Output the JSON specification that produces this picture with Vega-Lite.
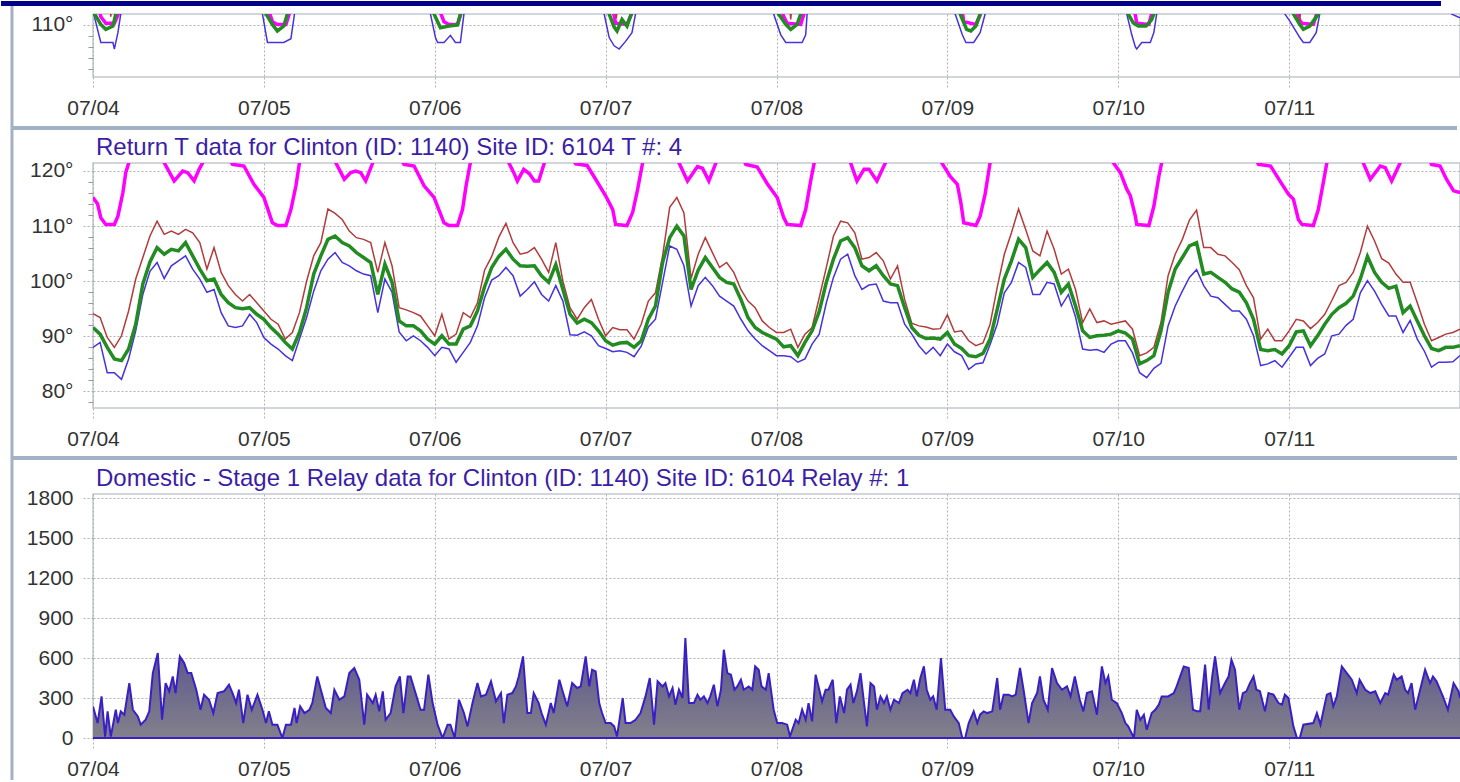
{
"$schema":"https://vega.github.io/schema/vega-lite/v6.json",
"background":"white",
"padding":0,
"autosize":{"type":"pad"},
"bounds":"flush",
"spacing":86,
"config":{
 "view":{"stroke":"#c3c7d0","strokeWidth":1.5,"fill":"white"},
 "axis":{"labelFont":"Liberation Sans","labelFontSize":21,"labelColor":"#333333","domain":false,"grid":true,"gridColor":"#b3b3b3","gridDash":[2,2],"tickColor":"#b3b3b3","tickDash":[2,2],"tickSize":12,"labelPadding":8,"labelFlush":false,"labelOverlap":false},
 "title":{"font":"Liberation Sans","fontSize":24,"fontWeight":"normal","color":"#3b1ea5","anchor":"start","frame":"group","dx":3}
},
"datasets":{
"one":[{"k":1}],
"rt":[
{"h":0,"mx":94.1,"av":91.6,"mn":88},{"h":1,"mx":93.4,"av":90.4,"mn":88.9},{"h":2,"mx":89.8,"av":88,"mn":83.4},{"h":3,"mx":88,"av":85.9,"mn":83.4},{"h":4,"mx":90.1,"av":85.6,"mn":82.2},{"h":5,"mx":94.6,"av":87.7,"mn":85.9},{"h":6,"mx":100.4,"av":92.2,"mn":91},{"h":7,"mx":104.3,"av":99.5,"mn":97.6},{"h":8,"mx":108.2,"av":103.5,"mn":101.8},{"h":9,"mx":110.9,"av":106.1,"mn":103.4},
{"h":10,"mx":108.5,"av":104.9,"mn":100.5},{"h":11,"mx":109.1,"av":105.8,"mn":102.8},{"h":12,"mx":108.5,"av":105.5,"mn":103.7},{"h":13,"mx":109.4,"av":107,"mn":104.6},{"h":14,"mx":108.8,"av":104.6,"mn":102.2},{"h":15,"mx":107,"av":102.2,"mn":100.4},{"h":16,"mx":102.2,"av":100.1,"mn":98},{"h":17,"mx":106.1,"av":100.4,"mn":98.5},{"h":18,"mx":101.6,"av":97.6,"mn":94.3},{"h":19,"mx":99.2,"av":96.1,"mn":91.9},
{"h":20,"mx":97.6,"av":95.2,"mn":91.6},{"h":21,"mx":96.4,"av":95,"mn":91.9},{"h":22,"mx":97.6,"av":95.2,"mn":94},{"h":23,"mx":96.1,"av":94,"mn":92.5},{"h":24,"mx":94.6,"av":93.1,"mn":89.8},{"h":25,"mx":93.1,"av":91.6,"mn":88.6},{"h":26,"mx":92.2,"av":90.4,"mn":87.7},{"h":27,"mx":89.5,"av":88.9,"mn":86.5},{"h":28,"mx":90.7,"av":87.7,"mn":85.6},{"h":29,"mx":94.3,"av":90.7,"mn":89.5},
{"h":30,"mx":100,"av":95.2,"mn":93.4},{"h":31,"mx":104.6,"av":101.3,"mn":98.2},{"h":32,"mx":107,"av":104.6,"mn":101.9},{"h":33,"mx":113.1,"av":107.6,"mn":104},{"h":34,"mx":112.3,"av":108.2,"mn":105.2},{"h":35,"mx":111.2,"av":107,"mn":103.4},{"h":36,"mx":109.1,"av":106.4,"mn":102.8},{"h":37,"mx":107.9,"av":105.2,"mn":101.9},{"h":38,"mx":107.6,"av":104.3,"mn":101.3},{"h":39,"mx":107,"av":103.4,"mn":101},
{"h":40,"mx":101.6,"av":97.6,"mn":94.3},{"h":41,"mx":107,"av":103.1,"mn":100.4},{"h":42,"mx":102.8,"av":99.8,"mn":98},{"h":43,"mx":95.2,"av":92.8,"mn":90.8},{"h":44,"mx":94.8,"av":91.9,"mn":89.2},{"h":45,"mx":94.3,"av":91.9,"mn":90.1},{"h":46,"mx":93.7,"av":91,"mn":89.2},{"h":47,"mx":91.9,"av":89.5,"mn":88},{"h":48,"mx":90.1,"av":88.6,"mn":86.5},{"h":49,"mx":94,"av":90.1,"mn":88},
{"h":50,"mx":89.5,"av":88.6,"mn":87.7},{"h":51,"mx":90.4,"av":88.6,"mn":85.3},{"h":52,"mx":94.3,"av":91.3,"mn":87.1},{"h":53,"mx":93.4,"av":91.9,"mn":88.9},{"h":54,"mx":96.1,"av":94.6,"mn":91.9},{"h":55,"mx":102,"av":99,"mn":97},{"h":56,"mx":104.5,"av":102.5,"mn":100.2},{"h":57,"mx":108,"av":104.5,"mn":101},{"h":58,"mx":110.5,"av":105.8,"mn":102.5},{"h":59,"mx":107,"av":104,"mn":101},
{"h":60,"mx":104.9,"av":102.8,"mn":97.3},{"h":61,"mx":105.2,"av":102.7,"mn":98.5},{"h":62,"mx":106.1,"av":102.8,"mn":99.9},{"h":63,"mx":104,"av":101,"mn":97.6},{"h":64,"mx":101.6,"av":99.8,"mn":96.4},{"h":65,"mx":107,"av":103,"mn":99.2},{"h":66,"mx":100,"av":98.5,"mn":96.4},{"h":67,"mx":95.2,"av":94,"mn":90.3},{"h":68,"mx":93.1,"av":92.4,"mn":90.2},{"h":69,"mx":95.2,"av":93.1,"mn":90.8},
{"h":70,"mx":96.7,"av":92.5,"mn":90.1},{"h":71,"mx":93.1,"av":91,"mn":88.3},{"h":72,"mx":90.1,"av":89.2,"mn":87.8},{"h":73,"mx":91.6,"av":88.4,"mn":87.2},{"h":74,"mx":91.2,"av":88.8,"mn":87.4},{"h":75,"mx":91.2,"av":88.9,"mn":87.1},{"h":76,"mx":89.5,"av":88,"mn":86.3},{"h":77,"mx":92.2,"av":89.2,"mn":88.2},{"h":78,"mx":96.4,"av":93.1,"mn":91.7},{"h":79,"mx":97.9,"av":95.5,"mn":93.1},
{"h":80,"mx":104.6,"av":103.4,"mn":99.8},{"h":81,"mx":113.4,"av":107.9,"mn":106.4},{"h":82,"mx":115.2,"av":110,"mn":105.8},{"h":83,"mx":112.4,"av":108.2,"mn":102.8},{"h":84,"mx":100.5,"av":98.5,"mn":95.5},{"h":85,"mx":104.9,"av":102,"mn":99.2},{"h":86,"mx":107.9,"av":104.3,"mn":100.7},{"h":87,"mx":105.2,"av":102.5,"mn":99.2},{"h":88,"mx":102.5,"av":100.7,"mn":97.3},{"h":89,"mx":103.4,"av":99.8,"mn":96.4},
{"h":90,"mx":101.6,"av":99.5,"mn":95.5},{"h":91,"mx":98.5,"av":96.7,"mn":93.1},{"h":92,"mx":96.4,"av":93.4,"mn":91},{"h":93,"mx":95.2,"av":91.6,"mn":89.5},{"h":94,"mx":92.8,"av":90.7,"mn":88.3},{"h":95,"mx":91.6,"av":90.1,"mn":87.4},{"h":96,"mx":90.7,"av":89.5,"mn":86.5},{"h":97,"mx":90.7,"av":88.1,"mn":86.5},{"h":98,"mx":91.3,"av":88.3,"mn":86.3},{"h":99,"mx":88,"av":86.5,"mn":85.3},
{"h":100,"mx":90.4,"av":88.9,"mn":85.9},{"h":101,"mx":91.6,"av":91,"mn":88.6},{"h":102,"mx":97,"av":94.5,"mn":90.4},{"h":103,"mx":102.5,"av":99.8,"mn":96.1},{"h":104,"mx":108.2,"av":104,"mn":100.7},{"h":105,"mx":110.9,"av":107.3,"mn":104},{"h":106,"mx":110.6,"av":107.9,"mn":104.9},{"h":107,"mx":108.8,"av":106.1,"mn":101},{"h":108,"mx":104,"av":102.8,"mn":98.5},{"h":109,"mx":104.3,"av":101.9,"mn":99.3},
{"h":110,"mx":105.2,"av":102.8,"mn":99.5},{"h":111,"mx":103.7,"av":101,"mn":96.4},{"h":112,"mx":100.4,"av":99.5,"mn":96.1},{"h":113,"mx":102.8,"av":99.2,"mn":96.1},{"h":114,"mx":96.7,"av":95.2,"mn":92.2},{"h":115,"mx":92.4,"av":91.6,"mn":90.4},{"h":116,"mx":91.9,"av":90.2,"mn":88.3},{"h":117,"mx":91.7,"av":89.6,"mn":86.8},{"h":118,"mx":91.3,"av":89.7,"mn":88},{"h":119,"mx":91.4,"av":89.5,"mn":86.5},
{"h":120,"mx":93.9,"av":90.7,"mn":88.6},{"h":121,"mx":90.8,"av":88.6,"mn":87.2},{"h":122,"mx":91,"av":87.8,"mn":86.5},{"h":123,"mx":89.2,"av":86.5,"mn":84},{"h":124,"mx":88.3,"av":86.3,"mn":85},{"h":125,"mx":88.8,"av":86.9,"mn":85.2},{"h":126,"mx":92.2,"av":89.5,"mn":88.5},{"h":127,"mx":98.9,"av":94.9,"mn":92.2},{"h":128,"mx":104.9,"av":100.4,"mn":97.9},{"h":129,"mx":108.8,"av":103.7,"mn":99.8},
{"h":130,"mx":113.1,"av":107.6,"mn":103.4},{"h":131,"mx":109.4,"av":106.1,"mn":102.5},{"h":132,"mx":105.5,"av":100.7,"mn":97.6},{"h":133,"mx":104.6,"av":102.1,"mn":97.6},{"h":134,"mx":109.1,"av":103.4,"mn":99.8},{"h":135,"mx":105.8,"av":101.6,"mn":99.5},{"h":136,"mx":101.3,"av":98,"mn":95.5},{"h":137,"mx":102.2,"av":99.5,"mn":97.6},{"h":138,"mx":98.5,"av":95.5,"mn":93.5},{"h":139,"mx":92.5,"av":91,"mn":87.7},
{"h":140,"mx":95,"av":89.8,"mn":87.5},{"h":141,"mx":92.5,"av":90.1,"mn":87.6},{"h":142,"mx":92.8,"av":90.2,"mn":87.1},{"h":143,"mx":92.2,"av":90.4,"mn":88.6},{"h":144,"mx":92.5,"av":91,"mn":89.2},{"h":145,"mx":92.8,"av":90.6,"mn":89.2},{"h":146,"mx":91.3,"av":89.5,"mn":87},{"h":147,"mx":86.5,"av":85,"mn":83.4},{"h":148,"mx":87,"av":85.6,"mn":82.5},{"h":149,"mx":88,"av":86.5,"mn":84.2},
{"h":150,"mx":92.5,"av":91,"mn":85.1},{"h":151,"mx":101,"av":98,"mn":91.9},{"h":152,"mx":104.9,"av":102.2,"mn":95.5},{"h":153,"mx":107.6,"av":104.3,"mn":98.2},{"h":154,"mx":111.1,"av":106.4,"mn":100.7},{"h":155,"mx":112.9,"av":107,"mn":102.1},{"h":156,"mx":106.1,"av":101.3,"mn":99.2},{"h":157,"mx":106.1,"av":101.6,"mn":97.3},{"h":158,"mx":104.9,"av":100.7,"mn":97},{"h":159,"mx":104.6,"av":99.8,"mn":95.8},
{"h":160,"mx":103.4,"av":98.6,"mn":94.6},{"h":161,"mx":102.1,"av":98,"mn":94.6},{"h":162,"mx":99.2,"av":96.1,"mn":93.1},{"h":163,"mx":97,"av":93.1,"mn":90.1},{"h":164,"mx":89.5,"av":87.6,"mn":84.7},{"h":165,"mx":91.3,"av":87.4,"mn":85},{"h":166,"mx":89.2,"av":87.6,"mn":85.6},{"h":167,"mx":89.2,"av":86.8,"mn":84.4},{"h":168,"mx":91,"av":88.3,"mn":86.2},{"h":169,"mx":93.1,"av":90.8,"mn":88},
{"h":170,"mx":92.8,"av":91,"mn":88},{"h":171,"mx":91.4,"av":88.3,"mn":84.7},{"h":172,"mx":92.5,"av":90.1,"mn":86},{"h":173,"mx":94,"av":92.2,"mn":86.8},{"h":174,"mx":96.5,"av":94,"mn":90.1},{"h":175,"mx":99.2,"av":95.2,"mn":90.4},{"h":176,"mx":99.8,"av":96,"mn":92},{"h":177,"mx":101.6,"av":97.3,"mn":93.1},{"h":178,"mx":105.2,"av":100.4,"mn":97.9},{"h":179,"mx":110,"av":104.5,"mn":100.1},
{"h":180,"mx":107.3,"av":101.6,"mn":98.2},{"h":181,"mx":104.1,"av":99.8,"mn":95.8},{"h":182,"mx":103.3,"av":98.7,"mn":93.7},{"h":183,"mx":101.3,"av":99.1,"mn":93.7},{"h":184,"mx":99.8,"av":94.3,"mn":90.7},{"h":185,"mx":99.8,"av":95.5,"mn":92.9},{"h":186,"mx":96.1,"av":92.8,"mn":89.5},{"h":187,"mx":92.2,"av":90.1,"mn":87.3},{"h":188,"mx":89.2,"av":87.8,"mn":84.4},{"h":189,"mx":89.8,"av":87.4,"mn":85.3},
{"h":190,"mx":90.4,"av":88,"mn":85.3},{"h":191,"mx":90.7,"av":88,"mn":85.4},{"h":192,"mx":91.3,"av":88.3,"mn":86.5}
],
"sp":[
{"h":0,"v":115.2},{"h":0.65,"v":114},{"h":1.1,"v":111.5},{"h":1.8,"v":110.3},{"h":3,"v":110.3},{"h":3.5,"v":111.8},{"h":4.2,"v":116.1},{"h":4.6,"v":119.7},{"h":5.1,"v":121.8},{"h":6,"v":124},{"h":9,"v":124},
{"h":10,"v":121.5},{"h":11.4,"v":118.2},{"h":12.6,"v":120},{"h":13.3,"v":119.7},{"h":14.2,"v":118.2},{"h":14.9,"v":120.3},{"h":15.4,"v":121.5},{"h":16,"v":124},{"h":19,"v":122.5},
{"h":19.6,"v":121.2},{"h":21.2,"v":120.9},{"h":22.6,"v":117.6},{"h":24,"v":115.2},{"h":25.2,"v":110.6},{"h":25.9,"v":110.1},{"h":27.1,"v":110.1},{"h":27.8,"v":113},{"h":28.5,"v":117.3},{"h":29,"v":121.5},{"h":30,"v":124},{"h":33,"v":124},
{"h":34.1,"v":121.5},{"h":35.3,"v":118.5},{"h":36.2,"v":119.7},{"h":36.9,"v":120},{"h":37.6,"v":119.7},{"h":38.3,"v":118.2},{"h":39.3,"v":121.5},{"h":40,"v":124},{"h":43,"v":122.5},
{"h":43.7,"v":121.2},{"h":45.1,"v":120.9},{"h":46.5,"v":117.3},{"h":47.9,"v":115.2},{"h":49.3,"v":110.6},{"h":50,"v":110.1},{"h":51.2,"v":110.1},{"h":51.9,"v":113},{"h":52.4,"v":117.3},{"h":53,"v":121.5},{"h":54,"v":124},{"h":57.5,"v":124},
{"h":58.4,"v":121.5},{"h":59.1,"v":119.7},{"h":59.6,"v":118.2},{"h":60.5,"v":120.3},{"h":61.3,"v":119.5},{"h":62,"v":118.2},{"h":62.6,"v":118.2},{"h":63.4,"v":121.5},{"h":64,"v":124},{"h":67,"v":123},
{"h":67.8,"v":121.3},{"h":69.4,"v":121},{"h":70.6,"v":118.5},{"h":72,"v":115.5},{"h":73,"v":113},{"h":73.4,"v":110.3},{"h":75,"v":110.1},{"h":75.8,"v":112.5},{"h":76.5,"v":116.7},{"h":77.2,"v":121.5},{"h":78,"v":124},{"h":81.5,"v":124},
{"h":82.3,"v":121.5},{"h":83.5,"v":118.2},{"h":84.9,"v":120.8},{"h":85.6,"v":120.5},{"h":86.5,"v":118.2},{"h":87.5,"v":121.5},{"h":88,"v":124},{"h":91,"v":123},
{"h":91.7,"v":121.2},{"h":93.3,"v":120.7},{"h":94.7,"v":117.7},{"h":96.1,"v":115.2},{"h":97,"v":111.6},{"h":97.5,"v":110.3},{"h":99.4,"v":110.1},{"h":100.1,"v":113},{"h":100.8,"v":118.2},{"h":101.3,"v":121.5},{"h":102,"v":124},{"h":105.8,"v":124},
{"h":106.4,"v":121.5},{"h":107.3,"v":118.2},{"h":108.3,"v":120.3},{"h":109,"v":120.3},{"h":110.1,"v":118.2},{"h":111.3,"v":121.5},{"h":112,"v":124},{"h":118.5,"v":123},
{"h":119.3,"v":121.3},{"h":120.4,"v":119},{"h":121.4,"v":117.6},{"h":121.9,"v":114.2},{"h":122.3,"v":110.6},{"h":124,"v":110.1},{"h":124.6,"v":111.8},{"h":125.3,"v":115.8},{"h":126,"v":121.5},{"h":126.7,"v":124},{"h":142.5,"v":124},
{"h":143.3,"v":121.5},{"h":144.3,"v":119.7},{"h":145.2,"v":116.7},{"h":145.7,"v":115.5},{"h":146.4,"v":111.8},{"h":146.6,"v":110.3},{"h":148.3,"v":110.1},{"h":149,"v":113.6},{"h":149.7,"v":119},{"h":150.1,"v":121.5},{"h":151,"v":124},{"h":163,"v":123},
{"h":163.7,"v":121.2},{"h":165.4,"v":120.9},{"h":166.7,"v":118.2},{"h":167.9,"v":115.8},{"h":168.6,"v":114.9},{"h":169.3,"v":111.2},{"h":169.8,"v":110.3},{"h":171.4,"v":110.1},{"h":172.1,"v":113},{"h":172.8,"v":117.9},{"h":173.3,"v":121.5},{"h":174,"v":124},{"h":177.8,"v":124},
{"h":178.4,"v":121.5},{"h":179.4,"v":118.5},{"h":180.8,"v":120.9},{"h":181.5,"v":120.6},{"h":182.4,"v":118.2},{"h":183.6,"v":121.5},{"h":184.3,"v":124},{"h":187.5,"v":123},
{"h":188,"v":121.2},{"h":189.2,"v":120.9},{"h":190.1,"v":118.5},{"h":191.1,"v":116.4},{"h":192,"v":116.1}
],
"smn":[
{"h":0,"v":112.5},{"h":1.1,"v":106.8},{"h":2.8,"v":106.8},{"h":3,"v":105.6},{"h":3.5,"v":108.6},{"h":3.9,"v":112},{"h":4.4,"v":117},
{"h":23.3,"v":117},{"h":23.8,"v":112},{"h":24.5,"v":106.8},{"h":26.8,"v":106.8},{"h":27.8,"v":107.5},{"h":28.3,"v":112},{"h":28.8,"v":117},
{"h":46.9,"v":117},{"h":47.4,"v":112},{"h":48.1,"v":107.7},{"h":48.4,"v":106.8},{"h":49.3,"v":106.8},{"h":50.2,"v":108.1},{"h":50.9,"v":106.8},{"h":51.6,"v":106.8},{"h":52.1,"v":112},{"h":52.6,"v":117},
{"h":71.3,"v":117},{"h":71.8,"v":112},{"h":72.5,"v":107.7},{"h":73.2,"v":106.2},{"h":73.9,"v":105.6},{"h":74.8,"v":107},{"h":75.7,"v":108.6},{"h":76.2,"v":112},{"h":76.7,"v":117},
{"h":95.1,"v":117},{"h":95.6,"v":112},{"h":96.6,"v":108.2},{"h":97.3,"v":106.8},{"h":99.6,"v":106.8},{"h":100.1,"v":108.2},{"h":100.3,"v":112},{"h":100.8,"v":117},
{"h":120.6,"v":117},{"h":121.1,"v":112},{"h":122.1,"v":108.2},{"h":122.6,"v":106.8},{"h":123.7,"v":106.8},{"h":124.6,"v":108.6},{"h":125.3,"v":112},{"h":125.8,"v":117},
{"h":144.7,"v":117},{"h":145.2,"v":112},{"h":145.9,"v":108.2},{"h":146.4,"v":106},{"h":146.6,"v":105.6},{"h":147.3,"v":106.8},{"h":148.5,"v":106.8},{"h":149,"v":108.6},{"h":149.4,"v":112},{"h":149.9,"v":117},
{"h":166.9,"v":117},{"h":167.4,"v":112},{"h":168.1,"v":110.7},{"h":169.5,"v":107.7},{"h":170,"v":106.8},{"h":170.9,"v":106.8},{"h":171.8,"v":108.6},{"h":172.3,"v":112},{"h":172.8,"v":117},
{"h":190.3,"v":117},{"h":190.8,"v":112},{"h":192,"v":111.3}
],
"sav":[
{"h":0,"v":112.5},{"h":1.1,"v":110.1},{"h":1.8,"v":109.2},{"h":2.8,"v":109.8},{"h":3.2,"v":112},{"h":3.7,"v":117},
{"h":23.8,"v":117},{"h":24.3,"v":112},{"h":25.2,"v":110.1},{"h":25.9,"v":108.9},{"h":26.8,"v":109.8},{"h":27.3,"v":112},{"h":27.8,"v":117},
{"h":47.4,"v":117},{"h":47.9,"v":112},{"h":48.8,"v":109.5},{"h":50,"v":109.8},{"h":51.2,"v":110},{"h":51.6,"v":112},{"h":52.1,"v":117},
{"h":72,"v":117},{"h":72.5,"v":112},{"h":73.2,"v":109.6},{"h":73.6,"v":108.9},{"h":74.3,"v":111},{"h":75,"v":109.8},{"h":75.6,"v":112},{"h":76.1,"v":117},
{"h":95.8,"v":117},{"h":96.3,"v":112},{"h":97.3,"v":110.1},{"h":98,"v":109.2},{"h":98.9,"v":110.1},{"h":99.4,"v":112},{"h":99.9,"v":117},
{"h":121.3,"v":117},{"h":121.8,"v":112},{"h":122.7,"v":109.2},{"h":123.3,"v":108.9},{"h":124,"v":109.8},{"h":124.6,"v":112},{"h":125.1,"v":117},
{"h":144.9,"v":117},{"h":145.4,"v":112},{"h":146.1,"v":110.4},{"h":146.8,"v":109.8},{"h":147.9,"v":109.8},{"h":148.7,"v":111},{"h":149,"v":112},{"h":149.5,"v":117},
{"h":168.1,"v":117},{"h":168.6,"v":112},{"h":169.5,"v":110.1},{"h":170,"v":109.2},{"h":170.9,"v":109.8},{"h":171.4,"v":110.7},{"h":172.1,"v":112},{"h":172.6,"v":117},{"h":192,"v":117}
],
"smx":[
{"h":0,"v":117},{"h":2.1,"v":117},{"h":2.5,"v":111.5},{"h":2.9,"v":117},{"h":73.1,"v":117},{"h":73.5,"v":111.2},{"h":73.9,"v":117},{"h":97.6,"v":117},{"h":98,"v":111},{"h":98.4,"v":117},{"h":169.1,"v":117},{"h":169.5,"v":110.8},{"h":169.9,"v":117},{"h":192,"v":117}
],
"relay":[
{"h":0,"v":237},{"h":0.65,"v":112},{"h":1.2,"v":312},{"h":1.7,"v":10},{"h":2.05,"v":200},{"h":2.5,"v":10},{"h":3.2,"v":212},{"h":3.5,"v":112},{"h":3.9,"v":200},{"h":4.4,"v":175},{"h":5.1,"v":412},{"h":5.6,"v":212},{"h":6.3,"v":162},{"h":6.7,"v":100},{"h":7.4,"v":137},{"h":7.9,"v":200},{"h":8.4,"v":487},{"h":9.1,"v":637},{"h":9.7,"v":137},{"h":10.2,"v":412},{"h":10.7,"v":350},{"h":11.2,"v":462},{"h":11.6,"v":337},{"h":12.2,"v":612},{"h":12.8,"v":562},{"h":13.3,"v":487},{"h":13.8,"v":487},{"h":14.5,"v":362},{"h":15.1,"v":212},{"h":15.6,"v":325},{"h":16.3,"v":287},{"h":16.9,"v":187},{"h":17.5,"v":337},{"h":18.4,"v":350},{"h":19.1,"v":400},{"h":19.6,"v":337},{"h":20.1,"v":262},{"h":20.5,"v":362},{"h":21.1,"v":112},{"h":21.7,"v":325},{"h":22.3,"v":212},{"h":23.1,"v":325},{"h":23.8,"v":212},{"h":24.3,"v":112},{"h":24.7,"v":200},{"h":25.2,"v":100},{"h":25.9,"v":100},{"h":26.6,"v":0},{"h":27.1,"v":100},{"h":27.8,"v":100},{"h":28.3,"v":225},{"h":28.6,"v":112},{"h":29.1,"v":237},{"h":29.7,"v":187},{"h":30.4,"v":212},{"h":30.8,"v":262},{"h":31.5,"v":462},{"h":32,"v":362},{"h":32.7,"v":225},{"h":33.4,"v":187},{"h":33.9,"v":362},{"h":34.6,"v":287},{"h":35.3,"v":312},{"h":36,"v":487},{"h":36.7,"v":525},{"h":37.4,"v":437},{"h":38.1,"v":100},{"h":38.5,"v":325},{"h":39.3,"v":262},{"h":39.7,"v":325},{"h":40.2,"v":200},{"h":40.7,"v":350},{"h":41.1,"v":137},{"h":41.8,"v":187},{"h":42.5,"v":387},{"h":43.1,"v":462},{"h":43.6,"v":187},{"h":44.2,"v":462},{"h":44.6,"v":462},{"h":45.3,"v":337},{"h":46,"v":212},{"h":46.5,"v":212},{"h":47.1,"v":475},{"h":47.7,"v":262},{"h":48.4,"v":100},{"h":49.1,"v":0},{"h":49.8,"v":100},{"h":50.2,"v":100},{"h":50.8,"v":0},{"h":51.4,"v":287},{"h":52.1,"v":187},{"h":52.6,"v":87},{"h":53.3,"v":262},{"h":54,"v":412},{"h":54.5,"v":312},{"h":55.2,"v":325},{"h":55.9,"v":425},{"h":56.6,"v":275},{"h":57.3,"v":337},
{"h":57.7,"v":112},{"h":58.2,"v":325},{"h":58.9,"v":337},{"h":59.4,"v":387},{"h":59.8,"v":462},{"h":60.4,"v":612},{"h":61,"v":187},{"h":61.5,"v":187},{"h":61.9,"v":337},{"h":62.6,"v":262},{"h":63,"v":187},{"h":63.6,"v":100},{"h":64.3,"v":262},{"h":64.7,"v":187},{"h":65.5,"v":437},{"h":65.9,"v":362},{"h":66.6,"v":237},{"h":67.3,"v":412},{"h":68,"v":375},{"h":68.5,"v":387},{"h":69.2,"v":612},{"h":69.7,"v":387},{"h":70.1,"v":512},{"h":70.6,"v":500},{"h":71.1,"v":262},{"h":71.5,"v":187},{"h":72,"v":112},{"h":72.7,"v":112},{"h":73.2,"v":87},{"h":73.6,"v":12},{"h":74.4,"v":300},{"h":74.8,"v":112},{"h":75.5,"v":112},{"h":76.2,"v":137},{"h":76.9,"v":187},{"h":77.6,"v":312},{"h":78.2,"v":450},{"h":78.8,"v":100},{"h":79.3,"v":425},{"h":80,"v":387},{"h":80.4,"v":412},{"h":80.9,"v":312},{"h":81.4,"v":375},{"h":81.8,"v":250},{"h":82.3,"v":362},{"h":82.8,"v":300},{"h":83.2,"v":750},{"h":83.7,"v":262},{"h":84.4,"v":262},{"h":84.9,"v":325},{"h":85.3,"v":287},{"h":85.8,"v":312},{"h":86.3,"v":262},{"h":86.7,"v":312},{"h":87.2,"v":400},{"h":87.7,"v":237},{"h":88.2,"v":362},{"h":88.6,"v":662},{"h":89.1,"v":487},{"h":89.6,"v":475},{"h":90.1,"v":362},{"h":90.5,"v":387},{"h":91,"v":437},{"h":91.4,"v":362},{"h":92.1,"v":387},{"h":92.6,"v":362},{"h":93,"v":537},{"h":93.5,"v":512},{"h":93.9,"v":387},{"h":94.5,"v":362},{"h":94.9,"v":487},{"h":95.6,"v":212},{"h":96.1,"v":112},{"h":96.8,"v":112},{"h":97.5,"v":100},{"h":97.9,"v":12},{"h":98.7,"v":137},{"h":99.1,"v":112},{"h":99.6,"v":212},{"h":100.1,"v":137},{"h":100.5,"v":262},{"h":101,"v":125},{"h":101.5,"v":475},{"h":101.9,"v":387},{"h":102.4,"v":275},{"h":102.9,"v":362},{"h":103.3,"v":362},{"h":103.9,"v":437},{"h":104.4,"v":112},{"h":104.9,"v":312},{"h":105.5,"v":187},{"h":105.9,"v":362},{"h":106.4,"v":400},{"h":106.8,"v":262},{"h":107.3,"v":350},{"h":107.8,"v":487},{"h":108.3,"v":262},{"h":108.7,"v":87},{"h":109.2,"v":412},{"h":109.7,"v":387},{"h":110.1,"v":212},{"h":110.6,"v":312},{"h":111.1,"v":262},{"h":111.5,"v":312},{"h":112,"v":212},{"h":112.5,"v":287},{"h":113.2,"v":262},{"h":113.7,"v":337},{"h":114.4,"v":362},{"h":114.8,"v":337},{"h":115.3,"v":437},{"h":115.7,"v":312},{"h":116.2,"v":450},{"h":116.7,"v":537},{"h":117.1,"v":362},{"h":117.6,"v":287},{"h":118,"v":312},{"h":118.5,"v":212},{"h":119.1,"v":600},{"h":119.7,"v":212},{"h":120.4,"v":212},{"h":120.9,"v":162},{"h":121.6,"v":112},{"h":122.1,"v":0},{"h":122.5,"v":0},{"h":123,"v":112},{"h":123.7,"v":200},{"h":124.2,"v":112},
{"h":124.6,"v":175},{"h":125.1,"v":200},{"h":125.6,"v":187},{"h":126.3,"v":200},{"h":127,"v":450},{"h":127.4,"v":212},{"h":127.9,"v":325},{"h":128.6,"v":325},{"h":129.1,"v":312},{"h":129.6,"v":325},{"h":130.2,"v":525},{"h":130.7,"v":362},{"h":131.4,"v":112},{"h":131.9,"v":262},{"h":132.6,"v":337},{"h":133,"v":462},{"h":133.5,"v":287},{"h":134.1,"v":212},{"h":134.7,"v":525},{"h":135.4,"v":412},{"h":136.1,"v":362},{"h":136.8,"v":387},{"h":137.3,"v":312},{"h":137.9,"v":462},{"h":138.6,"v":287},{"h":139.1,"v":200},{"h":139.6,"v":337},{"h":140.3,"v":350},{"h":141,"v":175},{"h":141.7,"v":537},{"h":142.2,"v":412},{"h":142.6,"v":462},{"h":143.1,"v":287},{"h":143.8,"v":262},{"h":144.5,"v":187},{"h":145,"v":112},{"h":145.4,"v":87},{"h":146.2,"v":0},{"h":146.6,"v":212},{"h":147.1,"v":137},{"h":147.6,"v":175},{"h":148,"v":62},{"h":148.7,"v":187},{"h":149.2,"v":212},{"h":149.7,"v":250},{"h":150.1,"v":312},{"h":151,"v":312},{"h":151.8,"v":337},{"h":152.2,"v":387},{"h":152.7,"v":462},{"h":153.2,"v":537},{"h":153.9,"v":525},{"h":154.5,"v":212},{"h":155.1,"v":200},{"h":155.5,"v":200},{"h":156.2,"v":550},{"h":156.7,"v":212},{"h":157.2,"v":462},{"h":157.6,"v":612},{"h":158.3,"v":337},{"h":159,"v":412},{"h":159.5,"v":462},{"h":159.9,"v":587},{"h":160.4,"v":512},{"h":161,"v":212},{"h":161.5,"v":337},{"h":162,"v":350},{"h":162.5,"v":412},{"h":163,"v":462},{"h":163.4,"v":362},{"h":163.9,"v":350},{"h":164.6,"v":200},{"h":165.1,"v":337},{"h":165.8,"v":325},{"h":166.5,"v":262},{"h":167,"v":250},{"h":167.4,"v":325},{"h":167.9,"v":300},{"h":168.6,"v":87},{"h":169.1,"v":0},{"h":169.5,"v":0},{"h":170,"v":100},{"h":171.4,"v":112},{"h":171.9,"v":187},{"h":172.4,"v":100},{"h":172.8,"v":200},{"h":173.3,"v":325},{"h":173.8,"v":337},{"h":174.2,"v":237},{"h":174.7,"v":312},{"h":175.4,"v":537},{"h":176.1,"v":487},{"h":176.8,"v":437},{"h":177.5,"v":337},{"h":177.9,"v":437},{"h":178.7,"v":362},{"h":179.4,"v":337},{"h":180.1,"v":350},{"h":180.8,"v":262},{"h":181.5,"v":337},{"h":181.9,"v":325},{"h":182.7,"v":475},{"h":183.1,"v":437},{"h":183.8,"v":462},{"h":184.3,"v":362},{"h":184.7,"v":337},{"h":185.2,"v":412},{"h":185.7,"v":212},{"h":186.4,"v":362},{"h":187.1,"v":512},{"h":187.8,"v":412},{"h":188.2,"v":462},{"h":188.7,"v":425},{"h":189.2,"v":362},{"h":189.6,"v":312},{"h":190.3,"v":212},{"h":191.1,"v":412},{"h":191.8,"v":350},{"h":192,"v":300}
]
},
"vconcat":[
{
 "width":1367,"height":63,
 "resolve":{"axis":{"y":"independent"}},
 "layer":[
  {"data":{"name":"sp"},"mark":{"type":"line","color":"#ff00ff","strokeWidth":3.5,"clip":true},
   "encoding":{
    "x":{"field":"h","type":"quantitative","title":null,"scale":{"domain":[0,192],"nice":false,"zero":false},"axis":{"values":[0,24,48,72,96,120,144,168],"labelOverlap":false,"labelExpr":"timeFormat(datetime(2012,6,4+datum.value/24),'%m/%d')"}},
    "y":{"field":"v","type":"quantitative","title":null,"scale":{"domain":[100.5,112],"nice":false,"zero":false},"axis":{"orient":"left","values":[110],"labelExpr":"datum.value + '°'"}}
   }},
  {"data":{"name":"smx"},"mark":{"type":"line","color":"#b23c3c","strokeWidth":1.5,"clip":true},
   "encoding":{"x":{"field":"h","type":"quantitative","title":null},"y":{"field":"v","type":"quantitative","title":null,"axis":{"orient":"left","values":[102,104,106,108],"labels":false,"grid":false,"tickSize":5,"tickDash":[],"tickColor":"#999999"}}}},
  {"data":{"name":"smn"},"mark":{"type":"line","color":"#4533dd","strokeWidth":1.5,"clip":true},
   "encoding":{"x":{"field":"h","type":"quantitative","title":null},"y":{"field":"v","type":"quantitative","title":null,"axis":null}}},
  {"data":{"name":"sav"},"mark":{"type":"line","color":"#228b22","strokeWidth":3.5,"clip":true},
   "encoding":{"x":{"field":"h","type":"quantitative","title":null},"y":{"field":"v","type":"quantitative","title":null,"axis":null}}},
  {"data":{"name":"one"},"mark":{"type":"rect","color":"#00008a","clip":false},
   "encoding":{"x":{"datum":-12.92,"type":"quantitative","title":null},"x2":{"datum":189.33},"y":{"datum":114.373,"type":"quantitative","title":null,"axis":null},"y2":{"datum":113.46}}},
  {"data":{"name":"one"},"mark":{"type":"rule","color":"#a3b1c4","strokeWidth":4,"clip":false},
   "encoding":{"x":{"datum":-11.38,"type":"quantitative","title":null},"x2":{"datum":191.58},"y":{"datum":91.19,"type":"quantitative","title":null,"axis":null}}},
  {"data":{"name":"one"},"mark":{"type":"rule","color":"#a3b1c4","strokeWidth":4,"clip":false},
   "encoding":{"x":{"datum":-11.38,"type":"quantitative","title":null},"x2":{"datum":191.58},"y":{"datum":30.95,"type":"quantitative","title":null,"axis":null}}},
  {"data":{"name":"one"},"mark":{"type":"rule","color":"#a3b1c4","strokeWidth":3,"clip":false},
   "encoding":{"x":{"datum":-11.38,"type":"quantitative","title":null},"y":{"datum":113.46,"type":"quantitative","title":null,"axis":null},"y2":{"datum":-27.83}}}
 ]
},
{
 "width":1367,"height":245,
 "title":{"text":"Return T data for Clinton (ID: 1140) Site ID: 6104 T #: 4","offset":0},
 "resolve":{"axis":{"y":"independent"}},
 "layer":[
  {"data":{"name":"sp"},"mark":{"type":"line","color":"#ff00ff","strokeWidth":3.5,"clip":true},
   "encoding":{
    "x":{"field":"h","type":"quantitative","title":null,"scale":{"domain":[0,192],"nice":false,"zero":false},"axis":{"values":[0,24,48,72,96,120,144,168],"labelOverlap":false,"labelExpr":"timeFormat(datetime(2012,6,4+datum.value/24),'%m/%d')"}},
    "y":{"field":"v","type":"quantitative","title":null,"scale":{"domain":[77,121.45],"nice":false,"zero":false},"axis":{"orient":"left","values":[80,90,100,110,120],"labelExpr":"datum.value + '°'"}}
   }},
  {"data":{"name":"rt"},"mark":{"type":"line","color":"#b23c3c","strokeWidth":1.5,"clip":true},
   "encoding":{"x":{"field":"h","type":"quantitative","title":null},"y":{"field":"mx","type":"quantitative","title":null,"axis":{"orient":"left","values":[78,82,84,86,88,92,94,96,98,102,104,106,108,112,114,116,118],"labels":false,"grid":false,"tickSize":5,"tickDash":[],"tickColor":"#999999"}}}},
  {"data":{"name":"rt"},"mark":{"type":"line","color":"#4533dd","strokeWidth":1.5,"clip":true},
   "encoding":{"x":{"field":"h","type":"quantitative","title":null},"y":{"field":"mn","type":"quantitative","title":null,"axis":null}}},
  {"data":{"name":"rt"},"mark":{"type":"line","color":"#228b22","strokeWidth":3.5,"clip":true},
   "encoding":{"x":{"field":"h","type":"quantitative","title":null},"y":{"field":"av","type":"quantitative","title":null,"axis":null}}}
 ]
},
{
 "width":1367,"height":244,
 "title":{"text":"Domestic - Stage 1 Relay data for Clinton (ID: 1140) Site ID: 6104 Relay #: 1","offset":-4},
 "layer":[
  {"data":{"name":"relay"},"mark":{"type":"area","opacity":1,"clip":true,"line":{"color":"#3a1fc4","strokeWidth":2},"color":{"gradient":"linear","x1":0,"y1":0,"x2":0,"y2":1,"stops":[{"offset":0,"color":"#55518f"},{"offset":1,"color":"#83808b"}]}},
   "encoding":{
    "x":{"field":"h","type":"quantitative","title":null,"scale":{"domain":[0,192],"nice":false,"zero":false},"axis":{"values":[0,24,48,72,96,120,144,168],"labelOverlap":false,"labelExpr":"timeFormat(datetime(2012,6,4+datum.value/24),'%m/%d')"}},
    "y":{"field":"v","type":"quantitative","title":null,"scale":{"domain":[0,1830],"nice":false},"axis":{"values":[0,300,600,900,1200,1500,1800],"labelOverlap":false,"format":"d"}}
   }},
  {"data":{"name":"one"},"mark":{"type":"rule","color":"#3a1fc4","strokeWidth":2},
   "encoding":{"y":{"datum":0,"type":"quantitative","title":null}}}
 ]
}
]
}
